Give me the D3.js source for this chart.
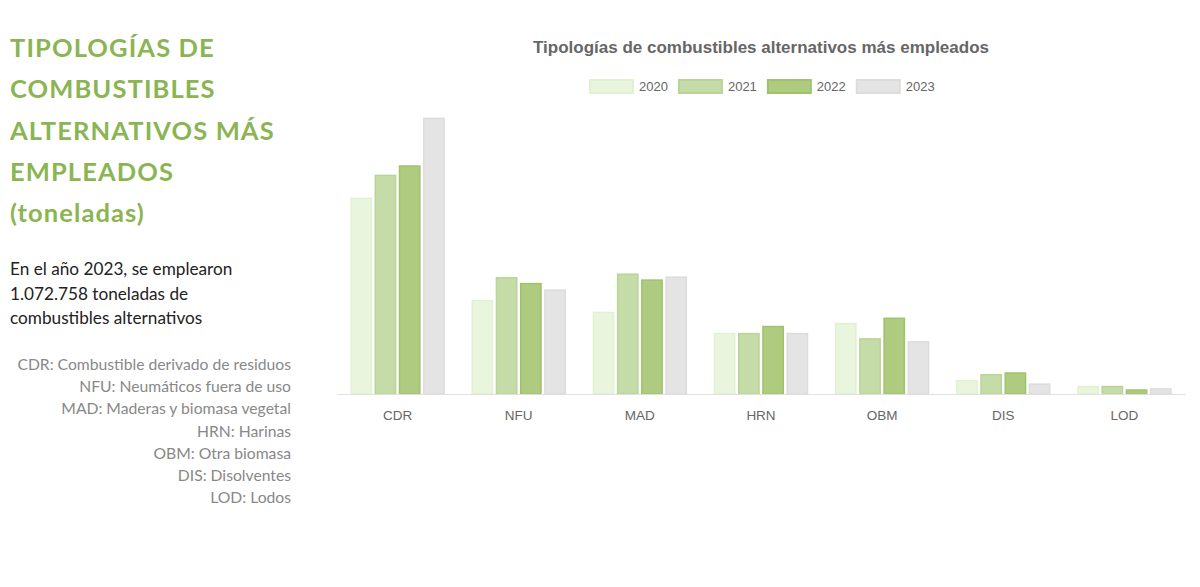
<!DOCTYPE html>
<html>
<head>
<meta charset="utf-8">
<script src="https://cdn.jsdelivr.net/npm/d3@7"></script>
<style>
  html, body { margin: 0; padding: 0; background: #fff; }
  svg { display: block; }
</style>
</head>
<body>
<svg id="chart" width="1200" height="587"></svg>
<script>
// ---- data ----
const categories = ["CDR", "NFU", "MAD", "HRN", "OBM", "DIS", "LOD"];
const years = ["2020", "2021", "2022", "2023"];
const values2020 = [334000, 160000, 140000, 104000, 121000, 24000, 14000];
const values2021 = [373000, 199000, 205000, 104000, 95000, 34000, 14000];
const values2022 = [389000, 189000, 195000, 116000, 130000, 37000, 8000];
const values2023 = [470000, 178000, 200000, 104000, 90000, 18000, 10000];
const seriesValues = [values2020, values2021, values2022, values2023];
const yMax = 500000;

const headingLines = ["TIPOLOGÍAS DE", "COMBUSTIBLES", "ALTERNATIVOS MÁS", "EMPLEADOS", "(toneladas)"];
const paragraphLines = ["En el año 2023, se emplearon", "1.072.758 toneladas de", "combustibles alternativos"];
const glossaryLines = [
  "CDR: Combustible derivado de residuos",
  "NFU: Neumáticos fuera de uso",
  "MAD: Maderas y biomasa vegetal",
  "HRN: Harinas",
  "OBM: Otra biomasa",
  "DIS: Disolventes",
  "LOD: Lodos"
];
const chartTitle = "Tipologías de combustibles alternativos más empleados";

const fills = ["#e9f6dd", "#c6dca8", "#aecb80", "#e4e4e4"];
const strokes = ["#e2f1d3", "#b9d496", "#9fc26c", "#dcdcdc"];

// ---- drawing ----
const svg = d3.select("#chart");
const leftFont = "Lato, 'Open Sans', sans-serif";
const chartFont = "'Liberation Sans', Arial, Helvetica, sans-serif";

// Left heading
svg.append("g").selectAll("text").data(headingLines).join("text")
  .attr("x", 10)
  .attr("y", (d, i) => 57 + i * 41.3)
  .attr("font-family", leftFont)
  .attr("font-weight", 700)
  .attr("font-size", 25.5)
  .attr("letter-spacing", 1.1)
  .attr("fill", "#8ab552")
  .text(d => d);

svg.append("g").selectAll("text").data(paragraphLines).join("text")
  .attr("x", 10)
  .attr("y", (d, i) => 275 + i * 24.5)
  .attr("font-family", leftFont)
  .attr("font-size", 17.2)
  .attr("fill", "#222")
  .text(d => d);

svg.append("g").selectAll("text").data(glossaryLines).join("text")
  .attr("x", 291)
  .attr("y", (d, i) => 370 + i * 22.2)
  .attr("text-anchor", "end")
  .attr("font-family", leftFont)
  .attr("font-size", 15.7)
  .attr("fill", "#888")
  .text(d => d);

// Chart area
const plotLeft = 337, plotRight = 1185, plotBottom = 394, plotTop = 100;

const x0 = d3.scaleBand().domain(categories).range([plotLeft, plotRight])
  .paddingInner(0.2).paddingOuter(0.1);
const x1 = d3.scaleBand().domain(years).range([0, x0.bandwidth()])
  .paddingInner(0.1).paddingOuter(0.05);
const y = d3.scaleLinear().domain([0, yMax]).range([plotBottom, plotTop]);

// Title
svg.append("text")
  .attr("x", (plotLeft + plotRight) / 2)
  .attr("y", 53)
  .attr("text-anchor", "middle")
  .attr("font-family", chartFont)
  .attr("font-weight", 700)
  .attr("font-size", 17)
  .attr("fill", "#666")
  .text(chartTitle);

// Legend
const legend = svg.append("g").attr("font-family", chartFont).attr("font-size", 13).attr("fill", "#666");
let lx = 589;
years.forEach((yr, i) => {
  legend.append("rect")
    .attr("x", lx + 1).attr("y", 79 + 1)
    .attr("width", 43).attr("height", 13)
    .attr("fill", fills[i]).attr("stroke", strokes[i]).attr("stroke-width", 2);
  const t = legend.append("text")
    .attr("x", lx + 50).attr("y", 91)
    .text(yr);
  const w = t.node().getComputedTextLength();
  lx += 50 + w + 10;
});

// Bars
const groups = svg.append("g").selectAll("g").data(categories).join("g")
  .attr("transform", d => `translate(${x0(d)},0)`);

groups.selectAll("rect")
  .data((c, ci) => years.map((yr, si) => ({ yr, si, v: seriesValues[si][ci] })))
  .join("rect")
  .attr("x", d => x1(d.yr) + 0.75)
  .attr("y", d => y(d.v) + 0.75)
  .attr("width", x1.bandwidth() - 1.5)
  .attr("height", d => Math.max(0, y(0) - y(d.v) - 0.75))
  .attr("fill", d => fills[d.si])
  .attr("stroke", d => strokes[d.si])
  .attr("stroke-width", 1.5);

// X axis
const xAxis = svg.append("g")
  .attr("transform", `translate(0,${plotBottom})`)
  .call(d3.axisBottom(x0).tickSize(0).tickPadding(16).tickSizeOuter(0));
xAxis.select(".domain").attr("stroke", "#e0e0e0").attr("stroke-width", 1.2);
xAxis.selectAll("text")
  .attr("font-family", chartFont)
  .attr("font-size", 13.5)
  .attr("fill", "#666");
</script>
</body>
</html>
